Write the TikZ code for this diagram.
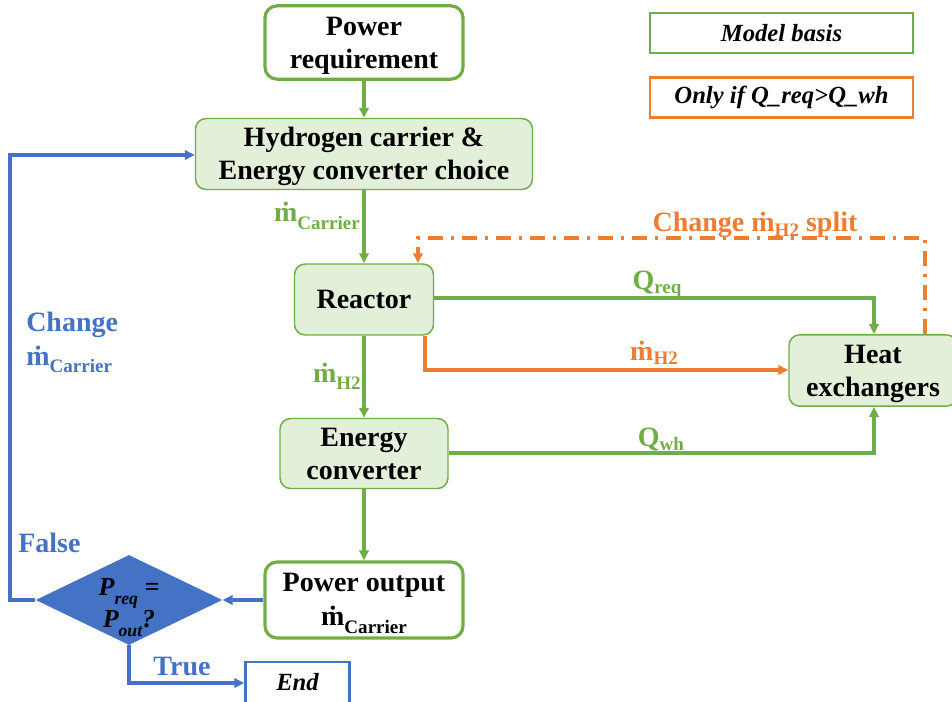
\documentclass[tikz,border=0pt]{standalone}
\usepackage{fontspec}
\setmainfont{Liberation Serif}
\usepackage{graphicx}
\usetikzlibrary{shapes.geometric,arrows.meta}
\definecolor{cgreen}{HTML}{70AD47}
\definecolor{corange}{HTML}{ED7D31}
\definecolor{cblue}{HTML}{4472C4}
\definecolor{cfill}{HTML}{E2F0D9}
\newcommand\lsub[1]{\raisebox{-0.17em}{\scalebox{0.68}{#1}}}
\newcommand\msub[1]{\raisebox{-0.28em}{\scalebox{0.68}{#1}}}
\newcommand\dsub[1]{\raisebox{-0.38em}{\scalebox{0.68}{#1}}}
\newcommand\mdot{\.{m}}
\newcommand\topstr{\rule{0pt}{19pt}}
\newcommand\botstr{\rule[-5pt]{0pt}{5pt}}
\tikzset{
  big/.style={font=\bfseries\fontsize{21}{25}\selectfont},
  gbox/.style={big, rounded corners=8pt, draw=cgreen, fill=cfill, line width=1.1pt, align=center, inner sep=0pt},
  wbox/.style={big, rounded corners=9pt, draw=cgreen, fill=white, line width=2.4pt, align=center, inner sep=0pt},
  legbox/.style={font=\bfseries\itshape\fontsize{18.5}{22}\selectfont, line width=1.8pt, fill=white, inner sep=0pt, minimum width=197pt, minimum height=30pt},
  arr/.style={line width=2.5pt, -{Triangle[length=7.5pt,width=7pt]}},
  garr/.style={arr, draw=cgreen},
  barr/.style={arr, draw=cblue},
  oarr/.style={arr, draw=corange},
  lab/.style={big, inner sep=0pt},
}
\begin{document}
\begin{tikzpicture}[x=0.75pt,y=-0.75pt]
\useasboundingbox (0,0) rectangle (952,702);
% nodes
\node[wbox, minimum width=148.5pt, minimum height=55pt] (pr) at (364,42.5) {\topstr Power\\requirement\botstr};
\node[gbox, minimum width=252.75pt, minimum height=53.25pt] (hc) at (364,154) {\topstr Hydrogen carrier \&\\Energy converter choice\botstr};
\node[gbox, minimum width=104.25pt, minimum height=53.25pt] (re) at (364,299.5) {Reactor};
\node[gbox, minimum width=126pt, minimum height=52.5pt] (ec) at (364,453.5) {\topstr Energy\\converter\botstr};
\node[gbox, minimum width=126pt, minimum height=53.5pt] (he) at (873,370.5) {\topstr Heat\\exchangers\botstr};
\node[wbox, minimum width=148.5pt, minimum height=57pt] (po) at (364,600) {\topstr Power output\\\mdot\msub{Carrier}\botstr};
\node[diamond, fill=cblue, inner sep=0pt, minimum width=140pt, minimum height=67.5pt] (dia) at (129,600) {};
\node[font=\bfseries\itshape\fontsize{19.5}{24}\selectfont, align=center, inner sep=0pt, anchor=base] (diat) at (129,627) {P\dsub{req} =\\P\dsub{out}?};
\node[legbox, draw=cblue, minimum width=78pt, minimum height=33pt] (end) at (297.5,684) {};
\node[font=\bfseries\itshape\fontsize{18.5}{22}\selectfont, inner sep=0pt, anchor=base] (endt) at (297.5,690) {End};
\node[legbox, draw=cgreen] (mb) at (781.5,33) {Model basis};
\node[legbox, draw=corange] (oi) at (781.5,97.5) {Only if Q\_req>Q\_wh};
% coordinates
\coordinate (fa) at (10,600);
\coordinate (fb) at (10,155);
\coordinate (ta) at (129,683);
\coordinate (qa) at (874,298);
\coordinate (ma) at (425,370);
\coordinate (wa) at (874,453);
\coordinate (da) at (925,238);
\coordinate (db) at (418,238);
% arrows
\draw[garr] (pr.south) -- (hc.north);
\draw[garr] (hc.south) -- (re.north);
\draw[garr] (re.south) -- (ec.north);
\draw[garr] (ec.south) -- (po.north);
\draw[barr] (po.west) -- (dia.east);
\draw[barr] (dia.west) -- (fa) -- (fb) -- (hc.west |- fb);
\draw[barr] (dia.south) -- (ta) -- (end.west |- ta);
\draw[garr] (re.east |- qa) -- (qa) -- (he.north -| qa);
\draw[oarr] (re.south -| ma) -- (ma) -- (he.west |- ma);
\draw[garr] (ec.east |- wa) -- (wa) -- (he.south -| wa);
\draw[corange, line width=2.5pt, dash pattern=on 11pt off 6pt on 2.5pt off 6pt, -{Triangle[length=7.5pt,width=7pt]}] (he.north -| da) -- (da) -- (db) -- (re.north -| db);
% labels
\node[lab, text=cgreen, anchor=base east] (l1) at (360,222) {\mdot\msub{Carrier}};
\node[lab, text=cgreen, anchor=base east] (l2) at (361,382) {\mdot\msub{H2}};
\node[lab, text=cgreen, anchor=base] (l3) at (657,289) {Q\lsub{req}};
\node[lab, text=corange, anchor=base] (l4) at (654,360) {\mdot\lsub{H2}};
\node[lab, text=cgreen, anchor=base] (l5) at (661,446) {Q\lsub{wh}};
\node[lab, text=corange, anchor=base] (l6) at (755,232) {Change \mdot\lsub{H2} split};
\node[lab, text=cblue, align=left, anchor=base west] (l7) at (26,365) {Change\\\mdot\msub{Carrier}};
\node[lab, text=cblue, anchor=base west] (l8) at (18,552) {False};
\node[lab, text=cblue, anchor=base] (l9) at (182,675) {True};
\end{tikzpicture}
\end{document}
